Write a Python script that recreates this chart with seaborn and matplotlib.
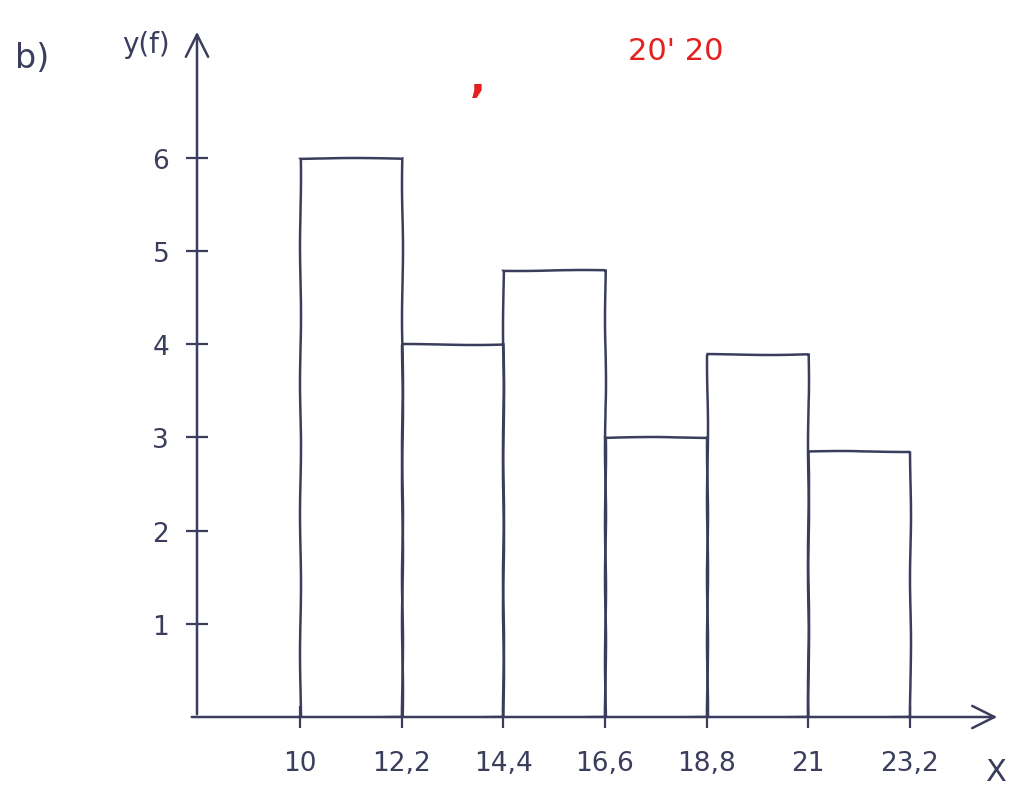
import matplotlib
matplotlib.use('Agg')
import matplotlib.pyplot as plt
import seaborn as sns

# Dữ liệu đọc từ hình vẽ tay
bin_edges = [10, 12.2, 14.4, 16.6, 18.8, 21, 23.2]
bar_heights = [6, 4, 4.8, 3, 3.9, 2.85]
x_tick_labels = ['10', '12,2', '14,4', '16,6', '18,8', '21', '23,2']
y_ticks = [1, 2, 3, 4, 5, 6]

INK = '#3a3e5c'
RED = '#e3211f'

sns.set_theme(style='white')
plt.rcParams['font.family'] = ['DejaVu Sans']

fig = plt.figure(figsize=(10.2, 8.04), dpi=100)
W, H = 1020, 804
# trục y ở x=197px, trục x ở y=718px
ax = fig.add_axes([197 / W, (H - 718) / H, (1000 - 197) / W, (718 - 30) / H])
ax.set_facecolor('white')

mids = [(a + b) / 2 for a, b in zip(bin_edges[:-1], bin_edges[1:])]
sns.histplot(x=mids, weights=bar_heights, bins=bin_edges, stat='count',
             fill=False, element='bars', color=INK, linewidth=1.8, ax=ax)
for p in ax.patches:
    p.set_edgecolor(INK)
    p.set_sketch_params(0.5, 150, 2)

ax.set_xlim(10 - 103 / 46.2, 10 + 700 / 46.2)
ax.set_ylim(0, 688 / 93.2)

for s in ax.spines.values():
    s.set_visible(False)

# trục có mũi tên
ax.annotate('', xy=(1.0, 0), xytext=(-0.01, 0), xycoords='axes fraction',
            arrowprops=dict(arrowstyle='->', color=INK, lw=1.8,
                            mutation_scale=40))
ax.annotate('', xy=(0, 1.0), xytext=(0, 0), xycoords='axes fraction',
            arrowprops=dict(arrowstyle='->', color=INK, lw=1.8,
                            mutation_scale=40))

ax.set_xticks(bin_edges)
ax.set_xticklabels(x_tick_labels)
ax.set_yticks(y_ticks)
ax.set_yticklabels([str(v) for v in y_ticks])
ax.tick_params(axis='both', direction='inout', length=16, width=1.6,
               color=INK, labelcolor=INK, labelsize=19,
               bottom=True, left=True)
ax.tick_params(axis='x', pad=16)
ax.tick_params(axis='y', pad=12)
ax.set_xlabel('')
ax.set_ylabel('')
ax.grid(False)

# chữ viết tay
fig.text(15 / W, 1 - 58 / H, 'b)', fontsize=24, color=INK, va='center')
fig.text(122 / W, 1 - 45 / H, 'y(f)', fontsize=20, color=INK, va='center')
fig.text(985 / W, 1 - 773 / H, 'X', fontsize=22, color=INK, va='center')
fig.text(470 / W, 1 - 80 / H, ',', fontsize=30, color=RED, va='center',
         fontweight='bold')
fig.text(628 / W, 1 - 52 / H, "20' 20", fontsize=22, color=RED, va='center')

fig.savefig('out.png', dpi=100, facecolor='white')
